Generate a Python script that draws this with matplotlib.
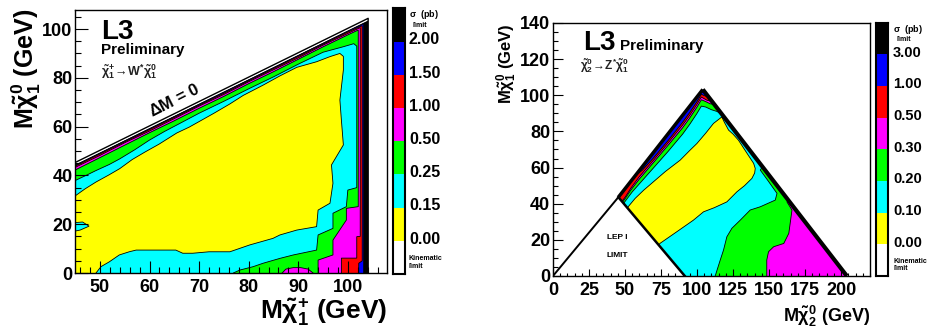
import matplotlib
matplotlib.use("Agg")
import matplotlib.pyplot as plt
from matplotlib.patches import Polygon
from matplotlib.ticker import MultipleLocator

plt.rcParams['font.family'] = 'Liberation Sans'
plt.rcParams['font.weight'] = 'bold'
plt.rcParams['mathtext.fontset'] = 'custom'
plt.rcParams['mathtext.rm'] = 'Liberation Sans:bold'
plt.rcParams['mathtext.it'] = 'Liberation Sans:bold'
plt.rcParams['mathtext.bf'] = 'Liberation Sans:bold'

# ROOT palette
BLACK, BLUE, RED, MAGENTA = '#000000', '#0000ff', '#ff0000', '#ff00ff'
GREEN, CYAN, YELLOW, WHITE = '#00ff00', '#00ffff', '#ffff00', '#ffffff'

# ---------------- left: chargino -> W* neutralino ----------------
c_kin_x = [45, 103.6, 104.1, 104.1, 45]
c_kin_y = [44.4, 103.0, 103.5, 0, 0]

# sigma < 2.00
c_blue_x = [44, 50, 55, 60, 65, 70, 75, 80, 85, 90, 95, 100, 103.2, 103.2, 44]
c_blue_y = [43.1, 49.1, 54.1, 59.1, 64.1, 69.1, 74.1, 79.1, 84.1, 89.1, 94.1, 99.1, 102.2, -5, -5]
# sigma < 1.50
c_red_x = [44, 50, 55, 60, 65, 70, 75, 80, 85, 90, 95, 100, 102.9, 102.9, 102.2, 102.2, 44]
c_red_y = [42.8, 48.8, 53.8, 58.8, 63.8, 68.8, 73.7, 78.8, 83.8, 88.8, 93.8, 98.8, 101.4, 5, 4, -5, -5]
# sigma < 1.00
c_mag_x = [44, 50, 55, 60, 65, 70, 75, 80, 85, 90, 95, 100, 102.5, 102.5, 101.8, 101.8, 98.7, 98.7, 44]
c_mag_y = [42.3, 48.2, 53.4, 58.2, 63.3, 68.4, 73.2, 78.4, 83.3, 88.2, 93.4, 98.2, 100.6, 15, 14.9, 6.1, 6.1, -5, -5]
# sigma < 0.50
c_grn_x = [44, 50, 55, 60, 65, 70, 75, 80, 85, 90, 95, 100, 102.1, 102.1, 99.7, 99.7, 97, 97, 94, 94, 44]
c_grn_y = [41.2, 47.3, 52.4, 57.5, 62.4, 67.5, 72.4, 77.6, 82.5, 87.6, 92.7, 97.6, 99.6, 27.2, 26.5, 21.7, 13.5, 7.4, 5.3, -5, -5]
# magenta dome inside the green area
c_dome_x = [86.3, 87.5, 89, 90.5, 92, 93.6]
c_dome_y = [-1, 1.6, 2.2, 2.2, 1.6, -1]
# sigma < 0.25
c_cyan_x = [44, 45.2, 47.8, 49.2, 51.9, 54, 57, 60, 63, 66, 70, 75, 80, 85, 90, 95, 99, 101.2,
            101.8, 101.8, 100, 99.7, 97, 97, 94, 93.7, 89, 86.3, 82.9, 80.9, 78.2, 76.9, 76.9, 44]
c_cyan_y = [37.0, 38.1, 40.6, 42.0, 44.5, 46.8, 50.5, 54.5, 58.0, 61.2, 65.5, 70.4, 75.5, 80.4, 85.6, 90.5, 92.7, 94.0,
            93.0, 35, 34, 27.2, 24.5, 18.3, 15.6, 9.4, 7.4, 6.0, 4.0, 2.6, 1.2, 0, -5, -5]
# sigma < 0.15
c_yel_x = [44, 45.2, 47, 49.2, 51.8, 54, 56.5, 59, 61.9, 65.5, 68, 70.2, 73, 76.2, 78.9, 82.9, 86.3, 89.7, 93.7,
           96.4, 98.4, 99.1, 99.1, 98.4, 98.7, 99.1, 96.7, 97.0, 96.4, 94.0, 93.7, 89.7, 86.3, 84.9, 80.2, 76.2,
           72.0, 68.7, 66.7, 65.3, 60.6, 57.3, 55.9, 53.9, 51.9, 50.2, 49.2, 49.2, 44]
c_yel_y = [30.5, 31.9, 34.5, 37.3, 40.2, 42.8, 46.5, 49.5, 52.8, 57.4, 59.8, 62.3, 65.5, 69.3, 72.8, 77.0, 80.8, 84.3, 86.6,
           88.7, 90.0, 88.8, 83.2, 70.9, 62.7, 52.5, 44.3, 36.8, 28.6, 25.8, 19.0, 17.6, 15.6, 14.2, 11.5, 8.7,
           8.7, 8.1, 8.1, 9.4, 9.4, 9.4, 8.7, 7.4, 4.6, 2.6, 0, -5, -5]
# small cyan island at the left edge
c_isl_x = [44, 46.0, 47.8, 46.5, 44]
c_isl_y = [16.8, 17.6, 19.2, 20.9, 20.5]

# ---------------- right: neutralino2 -> Z* neutralino1 ----------------
n_kin_x = [45.4, 104, 204, 91.5]
n_kin_y = [43.6, 103.2, 0, 0]
n_lep_x = [0, 45.4, 91.5]
n_lep_y = [0, 43.6, 0]

# sigma < 3.00
n_blue_x = [40, 103, 112, 240, 30]
n_blue_y = [38.8, 101.8, 100.5, -10, -10]
# sigma < 1.00
n_red_x = [40, 55, 58, 62, 70, 80, 90, 95, 100, 103, 106, 112, 240, 30]
n_red_y = [38.8, 53.7, 56.0, 58.5, 65.5, 75.0, 85.0, 90.5, 96.5, 100.5, 99.5, 99.0, -10, -10]
# sigma < 0.50
n_mag_x = [40, 46, 50, 54, 60, 70, 80, 90, 95, 100, 103, 107, 114, 240, 30]
n_mag_y = [33.5, 39.5, 43.5, 48.5, 55.0, 64.2, 73.7, 83.5, 89.0, 95.0, 99.0, 97.2, 96.5, -10, -10]
# sigma < 0.30
n_grn_x = [40, 46, 50, 54, 60, 70, 80, 90, 95, 100, 103, 106, 109, 116, 170, 164, 162.4, 165.9, 163.7,
           160.2, 153.2, 149.6, 148.4, 148.4, 30]
n_grn_y = [33.0, 38.7, 42.7, 47.5, 53.7, 63.0, 72.4, 82.0, 87.5, 93.5, 97.5, 96.5, 95.3, 94.5, 45, 42, 41, 36.5, 23.6,
           18, 16.2, 13.4, 8.8, -10, -10]
# sigma < 0.20
n_cyan_x = [40, 46, 50, 55, 60, 70, 80, 90, 95, 100, 103, 106, 110, 114, 120, 150, 145.3, 143.9, 149, 155.5,
            154.3, 143.9, 136.9, 130, 124.2, 120.7, 118.4, 116.1, 112.6, 112.6, 30]
n_cyan_y = [31.5, 37.2, 41.2, 46.5, 51.0, 60.0, 69.0, 78.5, 84.0, 90.0, 94.0, 93.5, 92.0, 91.0, 88.0, 62, 60.3, 58.6, 53, 45.7,
            42, 38.3, 36.5, 30.9, 26.4, 21.7, 14.4, 8.8, 0, -10, -10]
# sigma < 0.10
n_yel_x = [49, 52.4, 57, 63, 69.7, 78, 88.3, 95, 99.9, 106, 111.4, 117.2, 119, 121.9, 125, 128.8, 135, 139.3, 140.4,
           140, 138.1, 133, 127.7, 120.7, 112, 104.5, 97.5, 86, 74.4, 73.2, 70]
n_yel_y = [34, 38.5, 42.9, 47.5, 52.1, 57.8, 64.1, 69.5, 73.3, 79, 84.4, 88, 85, 80.7, 78.5, 75.1, 67.5, 62.3, 59.5,
           57, 54, 50, 46.6, 41, 37.8, 35.5, 30.9, 24.5, 18.1, 17.1, 14]

# palettes (bottom to top) and their labels
pal_colors = [WHITE, YELLOW, CYAN, GREEN, MAGENTA, RED, BLUE, BLACK]
c_pal_labels = ['0.00', '0.15', '0.25', '0.50', '1.00', '1.50', '2.00']
n_pal_labels = ['0.00', '0.10', '0.20', '0.30', '0.50', '1.00', '3.00']


def draw_levels(ax, clip_x, clip_y, levels):
    clip = Polygon(list(zip(clip_x, clip_y)), closed=True, facecolor='none', edgecolor='none')
    ax.add_patch(clip)
    for xs, ys, col in levels:
        p = Polygon(list(zip(xs, ys)), closed=True, facecolor=col, edgecolor='black', lw=0.6)
        ax.add_patch(p)
        p.set_clip_path(clip)


def style_axis(ax, xmaj, xmin, ymaj, ymin, xlen, ylen):
    ax.xaxis.set_major_locator(MultipleLocator(xmaj))
    ax.xaxis.set_minor_locator(MultipleLocator(xmin))
    ax.yaxis.set_major_locator(MultipleLocator(ymaj))
    ax.yaxis.set_minor_locator(MultipleLocator(ymin))
    ax.tick_params(axis='x', which='major', direction='in', length=xlen, width=0.8, labelsize=13, pad=4)
    ax.tick_params(axis='x', which='minor', direction='in', length=xlen / 2, width=0.8)
    ax.tick_params(axis='y', which='major', direction='in', length=ylen, width=0.8, labelsize=13, pad=2)
    ax.tick_params(axis='y', which='minor', direction='in', length=ylen / 2, width=0.8)
    for s in ax.spines.values():
        s.set_linewidth(1.0)


def draw_palette(cax, labels, xoff, size):
    for i, c in enumerate(pal_colors):
        cax.bar(0.5, 1, bottom=i, width=1, color=c, edgecolor='none')
    cax.set_xlim(0, 1)
    cax.set_ylim(0, len(pal_colors))
    cax.set_xticks([])
    cax.set_yticks([])
    for s in cax.spines.values():
        s.set_linewidth(1.5)
    tr = cax.get_yaxis_transform()
    for i, lab in enumerate(labels):
        cax.text(xoff, i + 1.05, lab, transform=tr, fontsize=size, va='center', ha='left')
    cax.text(xoff, 1.0, r'$\sigma$  (pb)', transform=cax.transAxes, fontsize=6.5, va='top', ha='left')
    cax.text(xoff + 0.3, 0.935, 'limit', transform=cax.transAxes, fontsize=5, va='center', ha='left')
    cax.text(xoff, 0.044, 'Kinematic\nlimit', transform=cax.transAxes, fontsize=5,
             va='center', ha='left', linespacing=1.1)


fig = plt.figure(figsize=(9.35, 3.31), dpi=100)
axL = fig.add_axes([0.0804, 0.1752, 0.3335, 0.7960])
cbL = fig.add_axes([0.4203, 0.1722, 0.0128, 0.8027])
axR = fig.add_axes([0.5914, 0.1662, 0.3390, 0.7644])
cbR = fig.add_axes([0.9369, 0.1662, 0.0132, 0.7653])

# left panel
draw_levels(axL, c_kin_x, c_kin_y, [
    (c_kin_x, c_kin_y, BLACK),
    (c_blue_x, c_blue_y, BLUE),
    (c_red_x, c_red_y, RED),
    (c_mag_x, c_mag_y, MAGENTA),
    (c_grn_x, c_grn_y, GREEN),
    (c_dome_x, c_dome_y, MAGENTA),
    (c_cyan_x, c_cyan_y, CYAN),
    (c_yel_x, c_yel_y, YELLOW),
    (c_isl_x, c_isl_y, CYAN),
])
axL.plot([45, 104.1, 104.1], [45.3, 104.4, 0], color='black', lw=1.0)
axL.set_xlim(45, 107.9)
axL.set_ylim(0, 108)
style_axis(axL, 10, 2, 20, 5, 9, 9)
axL.text(50.3, 96.0, 'L3', fontsize=20)
axL.text(50.2, 89.9, 'Preliminary', fontsize=11)
axL.text(50.3, 82.6, r'$\tilde{\chi}^{+}_{1}\!\rightarrow\! W^{*}\tilde{\chi}^{0}_{1}$', fontsize=9,
         va='center', color='#222222')
axL.text(65.0, 70.9, r'$\Delta$M = 0', fontsize=12, rotation=27, ha='center', va='center')
fig.text(26 / 935, 1 - 9 / 331, r'M$\tilde{\chi}^{0}_{1}$ (GeV)', fontsize=18, rotation=90, ha='center', va='top')
fig.text(387 / 935, 1 - 296 / 331, r'M$\tilde{\chi}^{+}_{1}$ (GeV)', fontsize=19, ha='right', va='top')
draw_palette(cbL, c_pal_labels, 1.33, 11.5)

# right panel
draw_levels(axR, n_kin_x, n_kin_y, [
    (n_kin_x, n_kin_y, BLACK),
    (n_blue_x, n_blue_y, BLUE),
    (n_red_x, n_red_y, RED),
    (n_mag_x, n_mag_y, MAGENTA),
    (n_grn_x, n_grn_y, GREEN),
    (n_cyan_x, n_cyan_y, CYAN),
    (n_yel_x, n_yel_y, YELLOW),
])
axR.plot([n_kin_x[0], n_kin_x[1]], [n_kin_y[0], n_kin_y[1]], color='black', lw=2.5, solid_capstyle='butt')
axR.plot([n_kin_x[1], n_kin_x[2]], [n_kin_y[1], n_kin_y[2]], color='black', lw=3.0, solid_capstyle='butt')
axR.plot(n_lep_x[1:], n_lep_y[1:], color='black', lw=1.8)
axR.plot(n_lep_x[:2], n_lep_y[:2], color='black', lw=1.4)
axR.set_xlim(0, 220)
axR.set_ylim(0, 140)
style_axis(axR, 25, 5, 20, 5, 5, 7)
axR.text(21.1, 124.9, 'L3', fontsize=20)
axR.text(46.6, 124.9, 'Preliminary', fontsize=11)
axR.text(18.8, 116.6, r'$\tilde{\chi}^{0}_{2}\!\rightarrow\! Z^{*}\tilde{\chi}^{0}_{1}$', fontsize=8.5,
         va='center', color='#222222')
axR.text(44.3, 21.4, 'LEP I', fontsize=6, ha='center', va='center')
axR.text(44.3, 11.6, 'LIMIT', fontsize=6, ha='center', va='center')
fig.text(507 / 935, 1 - 23 / 331, r'M$\tilde{\chi}^{0}_{1}$ (GeV)', fontsize=12, rotation=90, ha='center', va='top')
fig.text(870 / 935, 1 - 304 / 331, r'M$\tilde{\chi}^{0}_{2}$ (GeV)', fontsize=13, ha='right', va='top')
draw_palette(cbR, n_pal_labels, 1.38, 10.5)

fig.savefig('out.png', dpi=100)
